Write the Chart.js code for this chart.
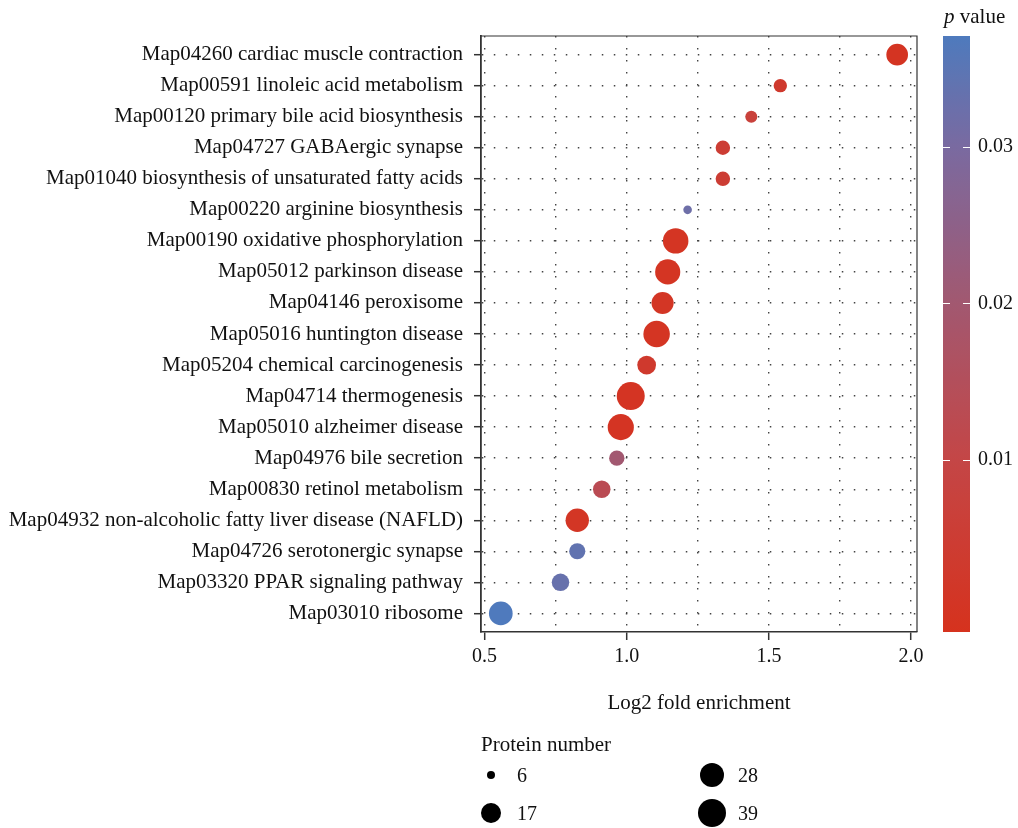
<!DOCTYPE html>
<html lang="en">
<head>
<meta charset="UTF-8">
<title>KEGG enrichment bubble chart</title>
<script src="https://cdn.jsdelivr.net/npm/chart.js"></script>
<style>
  body { margin: 0; background: #fff; }
  #wrap {
    position: relative; width: 1018px; height: 828px;
    font-family: "Liberation Serif", "DejaVu Serif", serif; color: #111;
  }
  #chart { position: absolute; left: 0; top: 0; }
  .ptitle { position: absolute; left: 944px; top: 4px; font-size: 21px; line-height: 24px; }
  .legend-title { position: absolute; left: 481px; top: 732px; font-size: 21px; line-height: 24px; }
  .dot { position: absolute; background: #000; border-radius: 50%; }
  .dot-label { position: absolute; font-size: 20px; line-height: 22px; }
</style>
</head>
<body>
<div id="wrap">
  <canvas id="chart" width="1018" height="828"></canvas>
  <div class="ptitle"><i>p</i> value</div>
  <div class="legend-title">Protein number</div>
  <div id="legend"></div>
</div>

<script>
  // pathways, top to bottom
  const categories = [
    'Map04260 cardiac muscle contraction',
    'Map00591 linoleic acid metabolism',
    'Map00120 primary bile acid biosynthesis',
    'Map04727 GABAergic synapse',
    'Map01040 biosynthesis of unsaturated fatty acids',
    'Map00220 arginine biosynthesis',
    'Map00190 oxidative phosphorylation',
    'Map05012 parkinson disease',
    'Map04146 peroxisome',
    'Map05016 huntington disease',
    'Map05204 chemical carcinogenesis',
    'Map04714 thermogenesis',
    'Map05010 alzheimer disease',
    'Map04976 bile secretion',
    'Map00830 retinol metabolism',
    'Map04932 non-alcoholic fatty liver disease (NAFLD)',
    'Map04726 serotonergic synapse',
    'Map03320 PPAR signaling pathway',
    'Map03010 ribosome'
  ];
  const foldEnrichment = [1.951, 1.540, 1.438, 1.338, 1.338, 1.214, 1.172, 1.144, 1.126, 1.105,
                          1.070, 1.014, 0.979, 0.965, 0.912, 0.826, 0.826, 0.767, 0.557];
  const proteinNumber = [21, 8, 7, 9, 9, 6, 31, 30, 22, 34, 15, 39, 33, 10, 13, 25, 11, 13, 26];
  const pValue = [0.0002, 0.003, 0.007, 0.005, 0.005, 0.032, 0.0005, 0.0005, 0.001, 0.0005,
                  0.003, 0.0003, 0.0003, 0.020, 0.013, 0.001, 0.034, 0.033, 0.037];

  const xTicks = [0.5, 1.0, 1.5, 2.0];
  const xMinorTicks = [0.75, 1.25, 1.75];
  const pTicks = [0.01, 0.02, 0.03];
  const legendSizes = [6, 17, 28, 39];

  // scale limits
  const X_MIN = 0.4874, X_MAX = 2.0207;
  const P_MIN = -0.001, P_MAX = 0.0371;
  const N_MIN = 6, N_MAX = 39;

  // colour ramp for p value (red -> blue)
  const colorStops = [
    [-0.001, [214, 50, 30]],
    [0.01, [196, 70, 70]],
    [0.02, [162, 88, 112]],
    [0.03, [122, 106, 160]],
    [0.0371, [78, 122, 189]]
  ];
  function pColor(p) {
    for (let i = 1; i < colorStops.length; i++) {
      const [p1, c1] = colorStops[i];
      const [p0, c0] = colorStops[i - 1];
      if (p <= p1 || i === colorStops.length - 1) {
        const t = Math.max(0, Math.min(1, (p - p0) / (p1 - p0)));
        const c = c0.map((v, k) => Math.round(v + (c1[k] - v) * t));
        return 'rgb(' + c.join(',') + ')';
      }
    }
  }
  // protein number -> radius (area-style scale)
  function radius(n) {
    return 4.3 + 9.7 * Math.sqrt(Math.max(0, (n - N_MIN) / (N_MAX - N_MIN)));
  }

  const FONT = '"Liberation Serif", "DejaVu Serif", serif';
  const GRID = '#444';
  const AXIS = '#333';

  // gradient bar and white ticks of the colour key, plus top/right frame
  const colorBar = {
    id: 'colorBar',
    afterDraw(chart) {
      const ctx = chart.ctx;
      const s = chart.scales.p;
      const x0 = 943, x1 = 970;
      const g = ctx.createLinearGradient(0, s.bottom, 0, s.top);
      for (let i = 0; i <= 40; i++) {
        const p = P_MIN + (P_MAX - P_MIN) * i / 40;
        g.addColorStop(i / 40, pColor(p));
      }
      ctx.save();
      ctx.fillStyle = g;
      ctx.fillRect(x0, s.top, x1 - x0, s.bottom - s.top);
      ctx.strokeStyle = '#fff';
      ctx.lineWidth = 1;
      pTicks.forEach(v => {
        const y = Math.round(s.getPixelForValue(v)) + 0.5;
        ctx.beginPath();
        ctx.moveTo(x0, y); ctx.lineTo(x0 + 7, y);
        ctx.moveTo(x1 - 7, y); ctx.lineTo(x1, y);
        ctx.stroke();
      });
      const a = chart.chartArea;
      ctx.strokeStyle = AXIS;
      ctx.lineWidth = 1.2;
      ctx.beginPath();
      ctx.moveTo(a.left, a.top); ctx.lineTo(a.right, a.top); ctx.lineTo(a.right, a.bottom);
      ctx.stroke();
      ctx.restore();
    }
  };

  const points = categories.map((c, i) => ({ x: foldEnrichment[i], y: i, r: radius(proteinNumber[i]) }));

  new Chart(document.getElementById('chart'), {
    type: 'bubble',
    data: {
      datasets: [{
        data: points,
        backgroundColor: pValue.map(pColor),
        borderWidth: 0,
        clip: false
      }]
    },
    options: {
      responsive: false,
      animation: false,
      layout: { padding: { top: 36, right: 0, left: 0, bottom: 0 } },
      plugins: { legend: { display: false }, tooltip: { enabled: false } },
      scales: {
        x: {
          type: 'linear',
          min: X_MIN, max: X_MAX,
          afterBuildTicks: s => { s.ticks = xTicks.concat(xMinorTicks).sort().map(v => ({ value: v })); },
          afterFit: s => { s.height = 196; },
          ticks: {
            padding: 5,
            color: '#111',
            font: { family: FONT, size: 20 },
            callback: v => xTicks.includes(v) ? v.toFixed(1) : ''
          },
          grid: {
            color: GRID,
            lineWidth: 1.4,
            tickLength: 8,
            tickWidth: 1.5,
            tickColor: ctx => (ctx.tick && xTicks.includes(ctx.tick.value)) ? AXIS : 'rgba(0,0,0,0)'
          },
          border: { color: AXIS, width: 1.5, dash: [1.5, 10.5] },
          title: {
            display: true,
            text: 'Log2 fold enrichment',
            color: '#111',
            font: { family: FONT, size: 21 },
            padding: { top: 0, bottom: 112 }
          }
        },
        y: {
          type: 'linear',
          reverse: true,
          min: -0.6, max: categories.length - 0.4,
          afterBuildTicks: s => { s.ticks = categories.map((c, i) => ({ value: i })); },
          afterFit: s => { s.width = 481; },
          ticks: {
            padding: 11,
            color: '#111',
            font: { family: FONT, size: 21 },
            callback: v => categories[v]
          },
          grid: { color: GRID, lineWidth: 1.4, tickLength: 7, tickWidth: 1.5, tickColor: AXIS },
          border: { color: AXIS, width: 1.8, dash: [1.5, 10.5] }
        },
        p: {
          type: 'linear',
          position: 'right',
          min: P_MIN, max: P_MAX,
          afterBuildTicks: s => { s.ticks = pTicks.map(v => ({ value: v })); },
          afterFit: s => { s.width = 101; },
          grid: { drawOnChartArea: false, tickLength: 55, color: 'rgba(0,0,0,0)', tickColor: 'rgba(0,0,0,0)' },
          border: { display: false },
          ticks: {
            padding: 6,
            color: '#111',
            font: { family: FONT, size: 20 },
            callback: v => v.toFixed(2)
          }
        }
      }
    },
    plugins: [colorBar]
  });

  // protein number legend (2 columns, filled top-down)
  const legend = document.getElementById('legend');
  const colX = [491, 712], rowY = [775, 813];
  legendSizes.forEach((n, i) => {
    const cx = colX[Math.floor(i / 2)], cy = rowY[i % 2];
    const r = radius(n);
    const d = document.createElement('div');
    d.className = 'dot';
    d.style.left = (cx - r) + 'px';
    d.style.top = (cy - r) + 'px';
    d.style.width = d.style.height = (2 * r) + 'px';
    legend.appendChild(d);
    const t = document.createElement('div');
    t.className = 'dot-label';
    t.textContent = n;
    t.style.left = (cx + 26) + 'px';
    t.style.top = (cy - 11) + 'px';
    legend.appendChild(t);
  });
</script>
</body>
</html>
